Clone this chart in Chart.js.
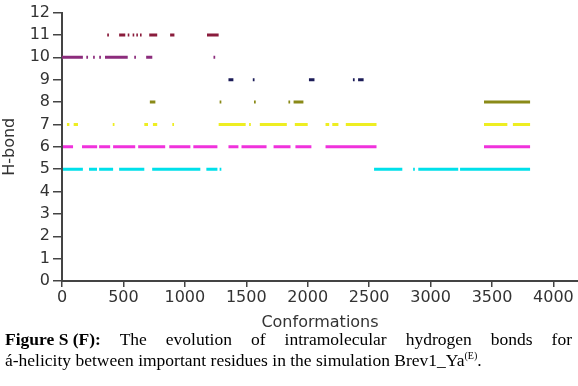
<!DOCTYPE html>
<html>
<head>
<meta charset="utf-8">
<script src="https://cdn.jsdelivr.net/npm/chart.js@4.4.1/dist/chart.umd.min.js"></script>
<style>
  html, body { margin: 0; padding: 0; background: #fff; }
  #wrap { position: relative; width: 578px; height: 386px; }
  #chartBox { position: absolute; left: 0; top: 0; width: 578px; height: 336px; }
  .cap { position: absolute; left: 5px; width: 567px; font-family: 'Liberation Serif', 'Times New Roman', serif;
         font-size: 17.5px; color: #000; white-space: nowrap; }
  #cap1 { top: 329px; text-align: justify; text-align-last: justify; white-space: normal; }
  #cap1 b { display: inline-block; }
  #cap2 { top: 350px; }
  sup { font-size: 10px; vertical-align: 7px; line-height: 0; }
</style>
</head>
<body>
<div id="wrap">
  <div id="chartBox"><canvas id="chartHbond" width="578" height="336"></canvas></div>
  <div class="cap" id="cap1"><b>Figure S (F):</b> The evolution of intramolecular hydrogen bonds for</div>
  <div class="cap" id="cap2">á-helicity between important residues in the simulation Brev1_Ya<sup>(E)</sup>.</div>
</div>
<script>
// segments [from, to] in conformations, one array per H-bond level
const hb11 = [[368, 382], [465, 515], [535, 548], [575, 588], [605, 618], [635, 648], [710, 775], [880, 915], [1180, 1275]];
const hb10 = [[0, 170], [198, 212], [253, 267], [303, 317], [350, 535], [588, 602], [685, 735], [1233, 1247]];
const hb9 = [[1355, 1395], [1553, 1567], [2010, 2055], [2368, 2382], [2410, 2455]];
const hb8 = [[715, 760], [1283, 1297], [1563, 1577], [1843, 1857], [1885, 1965], [3435, 3810]];
const hb7 = [[40, 60], [95, 130], [413, 427], [670, 700], [740, 775], [898, 912], [1275, 1495], [1523, 1537],
             [1610, 1830], [1895, 2000], [2145, 2175], [2200, 2250], [2310, 2560], [3435, 3625], [3670, 3810]];
const hb6 = [[8, 90], [163, 286], [302, 392], [416, 596], [620, 840], [873, 1045], [1069, 1265], [1355, 1436],
             [1461, 1665], [1722, 1860], [1900, 2030], [2145, 2560], [3435, 3810]];
const hb5 = [[8, 170], [220, 285], [302, 416], [465, 670], [734, 1126], [1175, 1265], [1283, 1297],
             [2540, 2770], [2858, 2872], [2900, 3225], [3240, 3810]];

const levels = [11, 10, 9, 8, 7, 6, 5];
const segs = [hb11, hb10, hb9, hb8, hb7, hb6, hb5];
const colors = ['#8a1c3c', '#8c2c7c', '#1c1c58', '#8a8a18', '#eeee22', '#f032dc', '#00e0ea'];
const xTicks = [0, 500, 1000, 1500, 2000, 2500, 3000, 3500, 4000];

const toPoints = (list, y) => {
   const pts = [];
   list.forEach(s => {
      pts.push({ x: s[0], y: y }, { x: s[1], y: y }, { x: s[1] + 1, y: null });
   });
   return pts;
};

const datasets = levels.map((lv, i) => ({
   label: 'H' + lv,
   data: toPoints(segs[i], lv),
   borderColor: colors[i],
   backgroundColor: colors[i],
   borderWidth: 3,
   borderCapStyle: 'butt',
   pointRadius: 0,
   spanGaps: false,
   tension: 0
}));

const FONT = { family: "'DejaVu Sans', Arial, sans-serif", size: 16 };

new Chart(document.getElementById('chartHbond').getContext('2d'), {
   type: 'line',
   data: { datasets: datasets },
   options: {
      responsive: false,
      animation: false,
      events: [],
      layout: { padding: { top: 7, right: 0, left: 0, bottom: 0 } },
      scales: {
         x: {
            type: 'linear',
            min: 0,
            max: 4200,
            afterBuildTicks: scale => { scale.ticks = xTicks.map(v => ({ value: v })); },
            afterFit: scale => { scale.height = 55; },
            grid: { drawOnChartArea: false, drawTicks: true, tickLength: 6, color: '#444', lineWidth: 1.5 },
            border: { color: '#444', width: 2 },
            ticks: { color: '#333', font: FONT, padding: 1, maxRotation: 0, callback: v => String(v) },
            title: { display: true, text: 'Conformations', color: '#333', font: FONT, padding: { top: 4 } }
         },
         y: {
            min: 0,
            max: 12,
            afterFit: scale => { scale.width = 62; },
            grid: { drawOnChartArea: false, drawTicks: true, tickLength: 9, color: '#444', lineWidth: 1.5 },
            border: { color: '#444', width: 2 },
            ticks: { stepSize: 1, color: '#333', font: FONT, padding: 3 },
            title: { display: true, text: 'H-bond', color: '#333', font: FONT, padding: 0 }
         }
      },
      plugins: {
         legend: { display: false },
         tooltip: { enabled: false }
      }
   }
});
</script>
</body>
</html>
